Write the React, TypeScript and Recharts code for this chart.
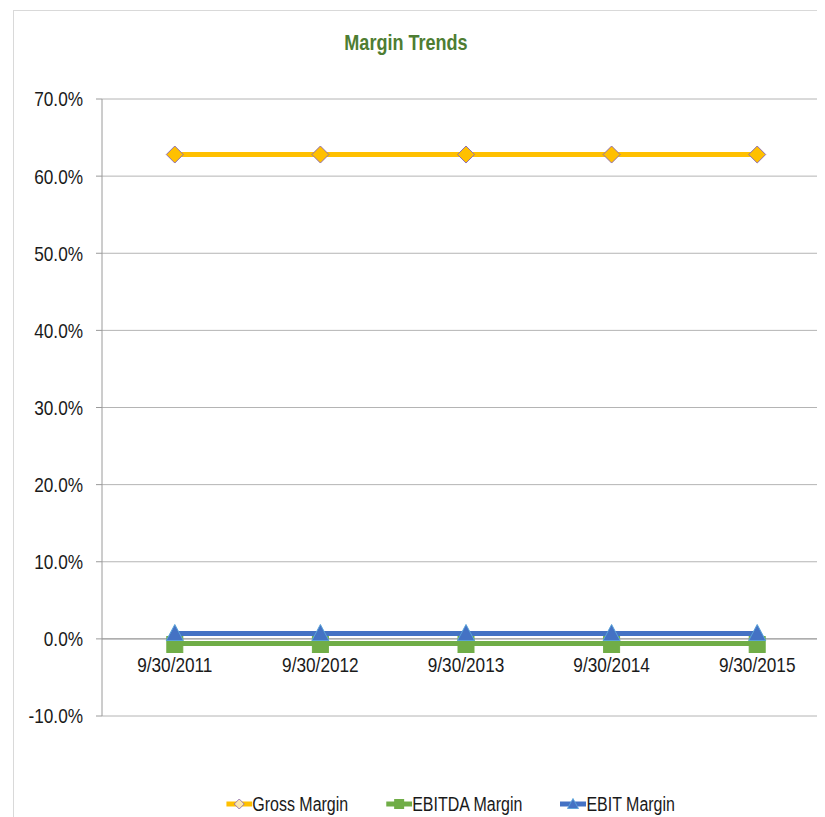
import React from 'react';
import {
  LineChart,
  Line,
  XAxis,
  YAxis,
  CartesianGrid,
  ReferenceLine,
  ReferenceDot,
  Legend,
} from 'recharts';

// Fiscal year-end dates (category axis)
const dates = ['9/30/2011', '9/30/2012', '9/30/2013', '9/30/2014', '9/30/2015'];

// Margin series, as fractions
const grossMargin = [0.628, 0.628, 0.628, 0.628, 0.628];
const ebitdaMargin = [-0.006, -0.006, -0.006, -0.006, -0.006];
const ebitMargin = [0.007, 0.007, 0.007, 0.007, 0.007];

// Value axis ticks
const yTicks = [-0.1, 0, 0.1, 0.2, 0.3, 0.4, 0.5, 0.6, 0.7];

const seriesNames = ['Gross Margin', 'EBITDA Margin', 'EBIT Margin'];

const data = dates.map((date, i) => ({
  date,
  gross: grossMargin[i],
  ebitda: ebitdaMargin[i],
  ebit: ebitMargin[i],
}));

// Narrow look: Liberation Sans squeezed horizontally
const FONT = "'Liberation Sans', Arial, sans-serif";
const NARROW = 0.82;

const GOLD = '#FFC000';
const GREEN = '#70AD47';
const BLUE = '#4472C4';
const TEXT = '#1a1a1a';

const pct = (v: number) => `${(v * 100).toFixed(1)}%`;

const Diamond = (props: any) => {
  const { cx, cy } = props;
  if (cx == null || cy == null) return null;
  const r = 8.5;
  return (
    <path
      d={`M${cx},${cy - r} L${cx + r},${cy} L${cx},${cy + r} L${cx - r},${cy} Z`}
      fill={GOLD}
      stroke="#8f6fb0"
      strokeWidth={1}
    />
  );
};

const Square = (props: any) => {
  const { cx, cy } = props;
  if (cx == null || cy == null) return null;
  const s = 16;
  return <rect x={cx - s / 2} y={cy - s / 2 + 1} width={s} height={s} fill={GREEN} stroke={GREEN} />;
};

const Triangle = (props: any) => {
  const { cx, cy } = props;
  if (cx == null || cy == null) return null;
  const h = 16;
  const w = 17;
  return (
    <path
      d={`M${cx},${cy - h / 2 - 1} L${cx + w / 2},${cy + h / 2 - 1} L${cx - w / 2},${cy + h / 2 - 1} Z`}
      fill={BLUE}
      stroke="#5BA3D9"
      strokeWidth={1}
    />
  );
};

const YTick = (props: any) => {
  const { x, y, payload } = props;
  return (
    <g transform={`translate(${x},${y})`}>
      <text
        transform={`scale(${NARROW},1)`}
        textAnchor="end"
        dy="0.355em"
        fill={TEXT}
        fontSize={21}
        fontFamily={FONT}
      >
        {pct(payload.value)}
      </text>
    </g>
  );
};

const CategoryLabel = (props: any) => {
  const { viewBox, value } = props;
  if (!viewBox) return null;
  const cx = viewBox.x + (viewBox.width || 0) / 2;
  const top = viewBox.y + (viewBox.height || 0) + 18;
  return (
    <g transform={`translate(${cx},${top})`}>
      <text
        transform={`scale(${NARROW},1)`}
        textAnchor="middle"
        dy="0.71em"
        fill={TEXT}
        fontSize={21}
        fontFamily={FONT}
      >
        {value}
      </text>
    </g>
  );
};

// Icons are drawn wide because the whole legend row is squeezed by NARROW
const LegendIcon = ({ kind }: { kind: number }) => {
  const color = [GOLD, GREEN, BLUE][kind];
  const w = 26 / NARROW;
  const c = w / 2;
  const k = 1 / NARROW;
  return (
    <svg width={w} height={16} style={{ display: 'block' }}>
      <line x1={0} y1={8} x2={w} y2={8} stroke={color} strokeWidth={5} />
      {kind === 0 && (
        <path
          d={`M${c},3 L${c + 5 * k},8 L${c},13 L${c - 5 * k},8 Z`}
          fill="#fbe7b0"
          stroke="#8f6fb0"
          strokeWidth={1}
        />
      )}
      {kind === 1 && <rect x={c - 5 * k} y={3} width={10 * k} height={10} fill={GREEN} />}
      {kind === 2 && (
        <path
          d={`M${c},2.5 L${c + 5.5 * k},12.5 L${c - 5.5 * k},12.5 Z`}
          fill={BLUE}
          stroke="#5BA3D9"
          strokeWidth={1}
        />
      )}
    </svg>
  );
};

const LegendContent = () => (
  <div
    style={{
      width: 830,
      height: 100,
      boxSizing: 'border-box',
      paddingTop: 76,
      paddingLeft: 46,
      display: 'flex',
      justifyContent: 'center',
    }}
  >
    <div
      style={{
        display: 'flex',
        alignItems: 'center',
        height: 24,
        transform: `scaleX(${NARROW})`,
        transformOrigin: 'center',
        fontFamily: FONT,
        fontSize: 19.5,
        color: TEXT,
        whiteSpace: 'nowrap',
      }}
    >
      {seriesNames.map((name, i) => (
        <div
          key={name}
          style={{ display: 'flex', alignItems: 'center', marginLeft: i === 0 ? 0 : 38 / NARROW }}
        >
          <LegendIcon kind={i} />
          <span style={{ lineHeight: '24px' }}>{name}</span>
        </div>
      ))}
    </div>
  </div>
);

export default function App() {
  return (
    <div style={{ position: 'relative', width: 817, height: 809, overflow: 'hidden', background: '#fff' }}>
      <div
        style={{
          position: 'absolute',
          left: 5,
          top: 2,
          width: 900,
          height: 900,
          border: '1px solid #d9d9d9',
          boxSizing: 'border-box',
        }}
      />
      <div
        style={{
          position: 'absolute',
          left: 0,
          top: 24,
          width: 796,
          textAlign: 'center',
          fontFamily: FONT,
          fontWeight: 'bold',
          fontSize: 22,
          lineHeight: '22px',
          color: '#4e7d32',
          transform: `scaleX(${NARROW})`,
          transformOrigin: 'center',
        }}
      >
        Margin Trends
      </div>
      <div style={{ position: 'absolute', left: 5, top: 2 }}>
        <LineChart
          width={830}
          height={806}
          data={data}
          margin={{ top: 89, right: 13, bottom: 0, left: 0 }}
        >
          <CartesianGrid vertical={false} stroke="#b4b4b4" strokeWidth={1} />
          <XAxis dataKey="date" type="category" scale="band" hide />
          <YAxis
            type="number"
            domain={[-0.1, 0.7]}
            ticks={yTicks}
            interval={0}
            width={89}
            tickSize={6}
            tickMargin={13}
            axisLine={{ stroke: '#9a9a9a' }}
            tickLine={{ stroke: '#9a9a9a' }}
            tick={<YTick />}
          />
          <ReferenceLine y={0} stroke="#9a9a9a" strokeWidth={1} />
          <Legend verticalAlign="bottom" wrapperStyle={{ left: 0, width: 830 }} content={<LegendContent />} />
          <Line
            dataKey="gross"
            name={seriesNames[0]}
            stroke={GOLD}
            strokeWidth={5}
            dot={<Diamond />}
            activeDot={false}
            isAnimationActive={false}
          />
          <Line
            dataKey="ebitda"
            name={seriesNames[1]}
            stroke={GREEN}
            strokeWidth={5}
            dot={<Square />}
            activeDot={false}
            isAnimationActive={false}
          />
          <Line
            dataKey="ebit"
            name={seriesNames[2]}
            stroke={BLUE}
            strokeWidth={5}
            dot={<Triangle />}
            activeDot={false}
            isAnimationActive={false}
          />
          {dates.map((d) => (
            <ReferenceDot
              key={d}
              x={d}
              y={0}
              r={0}
              fill="none"
              stroke="none"
              label={<CategoryLabel value={d} />}
            />
          ))}
        </LineChart>
      </div>
    </div>
  );
}
